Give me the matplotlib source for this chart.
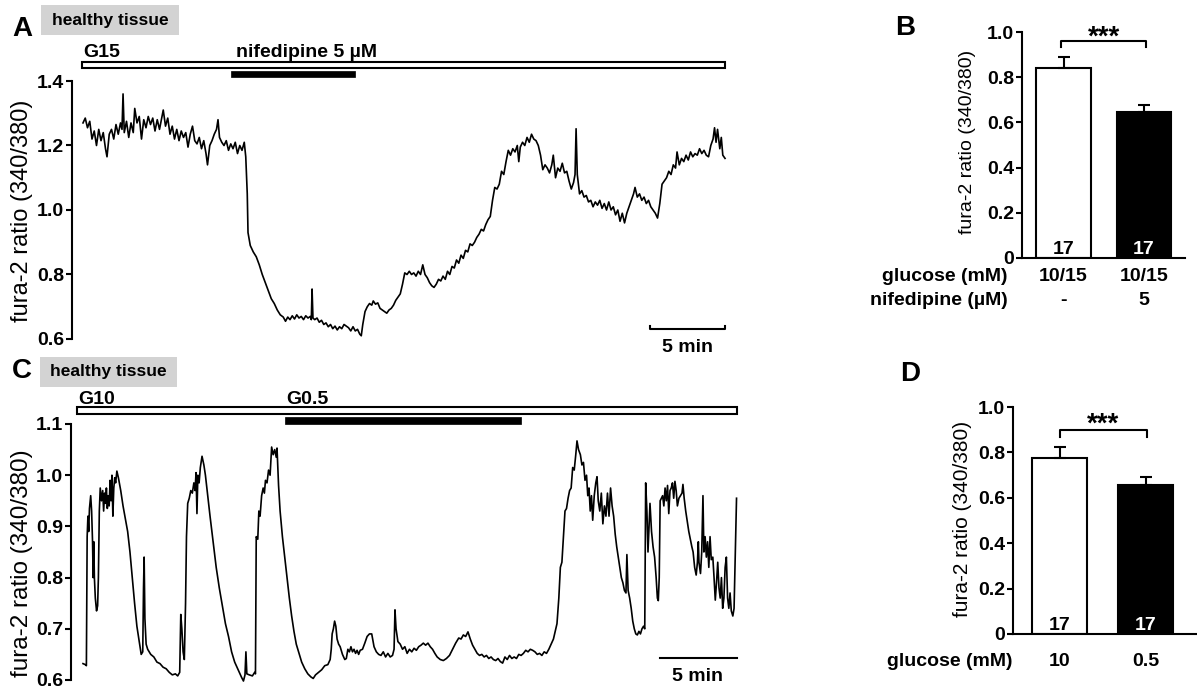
import numpy as np
import matplotlib
matplotlib.use("Agg")
import matplotlib.pyplot as plt
from matplotlib.patches import Rectangle
import matplotlib.transforms as mtransforms

plt.rcParams['font.family'] = ['Liberation Sans', 'DejaVu Sans']

# ---------------- data ----------------
# Panel A: fura-2 ratio trace (time in min, ratio)
trace_a = [
    (0.00, 1.27), (0.15, 1.285), (0.30, 1.255), (0.45, 1.275), (0.60, 1.22), (0.75, 1.245),
    (0.90, 1.20), (1.05, 1.25), (1.20, 1.215), (1.35, 1.24), (1.50, 1.19), (1.60, 1.165),
    (1.75, 1.235), (1.90, 1.25), (2.05, 1.22), (2.20, 1.265), (2.35, 1.235), (2.50, 1.27),
    (2.60, 1.25), (2.67, 1.36), (2.75, 1.24), (2.90, 1.275), (3.05, 1.225), (3.20, 1.27),
    (3.35, 1.24), (3.45, 1.315), (3.60, 1.27), (3.75, 1.29), (3.90, 1.22), (4.05, 1.28),
    (4.20, 1.255), (4.35, 1.29), (4.50, 1.265), (4.65, 1.285), (4.80, 1.245), (4.95, 1.28),
    (5.10, 1.25), (5.25, 1.285), (5.35, 1.31), (5.50, 1.26), (5.65, 1.285), (5.80, 1.235),
    (5.95, 1.26), (6.10, 1.22), (6.25, 1.25), (6.40, 1.215), (6.55, 1.245), (6.70, 1.225),
    (6.85, 1.24), (7.00, 1.195), (7.15, 1.235), (7.30, 1.26), (7.45, 1.215), (7.60, 1.205),
    (7.75, 1.225), (7.90, 1.19), (8.05, 1.215), (8.20, 1.175), (8.30, 1.14), (8.45, 1.20),
    (8.60, 1.215), (8.75, 1.235), (8.90, 1.25), (9.00, 1.28), (9.10, 1.225), (9.25, 1.21),
    (9.40, 1.20), (9.55, 1.215), (9.70, 1.185), (9.85, 1.205), (10.00, 1.19), (10.15, 1.21),
    (10.30, 1.175), (10.45, 1.20), (10.60, 1.185), (10.75, 1.21), (10.85, 1.165), (10.95, 1.05),
    (11.00, 0.93), (11.15, 0.89), (11.35, 0.87), (11.55, 0.855), (11.75, 0.83), (11.95, 0.80),
    (12.15, 0.775), (12.35, 0.75), (12.55, 0.725), (12.75, 0.71), (12.95, 0.69), (13.15, 0.675),
    (13.35, 0.668), (13.50, 0.655), (13.65, 0.668), (13.80, 0.66), (13.95, 0.672), (14.10, 0.662),
    (14.25, 0.675), (14.40, 0.665), (14.55, 0.67), (14.70, 0.66), (14.85, 0.672), (15.00, 0.665),
    (15.15, 0.67), (15.22, 0.66), (15.27, 0.755), (15.33, 0.665), (15.45, 0.66), (15.60, 0.665),
    (15.75, 0.652), (15.90, 0.658), (16.05, 0.645), (16.20, 0.65), (16.35, 0.638), (16.50, 0.645),
    (16.65, 0.632), (16.80, 0.64), (16.95, 0.628), (17.10, 0.638), (17.25, 0.632), (17.40, 0.645),
    (17.55, 0.64), (17.70, 0.635), (17.85, 0.625), (18.00, 0.638), (18.15, 0.625), (18.30, 0.63),
    (18.45, 0.615), (18.55, 0.61), (18.65, 0.645), (18.80, 0.685), (18.95, 0.70), (19.10, 0.71),
    (19.25, 0.705), (19.35, 0.718), (19.50, 0.708), (19.65, 0.712), (19.80, 0.695), (19.95, 0.69),
    (20.10, 0.685), (20.25, 0.68), (20.40, 0.69), (20.55, 0.695), (20.70, 0.705), (20.85, 0.72),
    (21.00, 0.73), (21.15, 0.74), (21.30, 0.77), (21.45, 0.805), (21.60, 0.80), (21.75, 0.81),
    (21.90, 0.80), (22.05, 0.805), (22.20, 0.795), (22.35, 0.81), (22.50, 0.80), (22.65, 0.83),
    (22.80, 0.80), (22.95, 0.79), (23.10, 0.775), (23.25, 0.765), (23.40, 0.76), (23.55, 0.77),
    (23.70, 0.785), (23.85, 0.78), (24.00, 0.795), (24.15, 0.785), (24.30, 0.81), (24.45, 0.80),
    (24.60, 0.825), (24.75, 0.82), (24.90, 0.845), (25.05, 0.835), (25.20, 0.86), (25.35, 0.85),
    (25.50, 0.875), (25.65, 0.87), (25.80, 0.895), (25.95, 0.89), (26.10, 0.90), (26.25, 0.915),
    (26.40, 0.925), (26.55, 0.94), (26.70, 0.935), (26.85, 0.955), (27.00, 0.97), (27.15, 0.98),
    (27.30, 1.03), (27.45, 1.07), (27.60, 1.065), (27.75, 1.08), (27.90, 1.12), (28.05, 1.11),
    (28.20, 1.15), (28.35, 1.185), (28.50, 1.17), (28.65, 1.19), (28.80, 1.18), (28.95, 1.20),
    (29.05, 1.15), (29.15, 1.195), (29.30, 1.21), (29.45, 1.20), (29.60, 1.225), (29.75, 1.21),
    (29.90, 1.235), (30.05, 1.22), (30.20, 1.215), (30.35, 1.20), (30.50, 1.17), (30.65, 1.125),
    (30.80, 1.14), (30.95, 1.13), (31.10, 1.115), (31.25, 1.14), (31.35, 1.17), (31.50, 1.10),
    (31.65, 1.13), (31.80, 1.12), (31.95, 1.145), (32.10, 1.115), (32.25, 1.12), (32.40, 1.09),
    (32.55, 1.065), (32.70, 1.085), (32.80, 1.11), (32.87, 1.252), (32.95, 1.11), (33.10, 1.05),
    (33.25, 1.06), (33.40, 1.04), (33.55, 1.045), (33.70, 1.025), (33.85, 1.03), (34.00, 1.01),
    (34.15, 1.025), (34.30, 1.015), (34.45, 1.03), (34.60, 1.005), (34.75, 1.02), (34.90, 1.00),
    (35.05, 1.025), (35.20, 1.00), (35.35, 1.01), (35.50, 0.985), (35.65, 1.00), (35.80, 0.965),
    (35.95, 0.99), (36.10, 0.96), (36.25, 0.99), (36.40, 1.01), (36.55, 1.03), (36.70, 1.05),
    (36.80, 1.07), (36.95, 1.04), (37.10, 1.05), (37.25, 1.03), (37.40, 1.04), (37.55, 1.02),
    (37.70, 1.03), (37.85, 1.01), (38.00, 1.00), (38.15, 0.99), (38.30, 0.975), (38.45, 1.02),
    (38.60, 1.08), (38.75, 1.09), (38.90, 1.10), (39.05, 1.12), (39.20, 1.11), (39.35, 1.14),
    (39.50, 1.13), (39.60, 1.18), (39.75, 1.14), (39.90, 1.16), (40.05, 1.15), (40.20, 1.17),
    (40.35, 1.155), (40.50, 1.18), (40.65, 1.165), (40.80, 1.175), (40.95, 1.17), (41.10, 1.19),
    (41.25, 1.175), (41.40, 1.185), (41.55, 1.17), (41.70, 1.165), (41.85, 1.20), (42.00, 1.22),
    (42.10, 1.255), (42.20, 1.21), (42.30, 1.25), (42.45, 1.19), (42.55, 1.225), (42.65, 1.17),
    (42.80, 1.16),
]

# Panel C: fura-2 ratio trace (time in min, ratio)
trace_c = [
    (0.00, 0.632), (0.15, 0.63), (0.22, 0.628), (0.27, 0.88), (0.32, 0.92), (0.37, 0.89),
    (0.42, 0.935), (0.50, 0.96), (0.56, 0.93), (0.62, 0.87), (0.66, 0.80), (0.70, 0.87),
    (0.74, 0.80), (0.80, 0.76), (0.88, 0.735), (0.95, 0.745), (1.00, 0.80), (1.06, 0.93),
    (1.12, 0.975), (1.20, 0.95), (1.28, 0.97), (1.34, 0.93), (1.40, 0.965), (1.46, 0.945),
    (1.52, 0.975), (1.58, 0.935), (1.64, 0.96), (1.70, 0.94), (1.76, 0.99), (1.82, 0.95),
    (1.88, 1.00), (1.94, 0.92), (2.00, 0.975), (2.06, 0.995), (2.12, 0.985), (2.20, 1.008),
    (2.30, 0.995), (2.45, 0.97), (2.60, 0.94), (2.75, 0.915), (2.90, 0.89), (3.05, 0.85),
    (3.20, 0.80), (3.35, 0.75), (3.50, 0.705), (3.65, 0.675), (3.78, 0.65), (3.88, 0.655),
    (3.93, 0.78), (3.97, 0.84), (4.02, 0.72), (4.10, 0.67), (4.20, 0.66), (4.40, 0.65),
    (4.60, 0.645), (4.80, 0.635), (5.00, 0.632), (5.20, 0.625), (5.40, 0.622), (5.60, 0.615),
    (5.80, 0.61), (6.00, 0.612), (6.15, 0.608), (6.28, 0.615), (6.35, 0.728), (6.42, 0.70),
    (6.50, 0.655), (6.58, 0.64), (6.66, 0.75), (6.72, 0.88), (6.80, 0.945), (6.90, 0.955),
    (7.00, 0.97), (7.10, 0.965), (7.20, 0.985), (7.28, 0.97), (7.34, 1.005), (7.40, 0.925),
    (7.46, 1.00), (7.54, 0.985), (7.62, 1.015), (7.73, 1.037), (7.85, 1.02), (7.95, 1.00),
    (8.10, 0.96), (8.25, 0.92), (8.45, 0.87), (8.65, 0.82), (8.85, 0.78), (9.05, 0.745),
    (9.25, 0.71), (9.45, 0.685), (9.65, 0.655), (9.85, 0.635), (10.00, 0.625), (10.15, 0.615),
    (10.30, 0.605), (10.42, 0.598), (10.52, 0.61), (10.58, 0.655), (10.64, 0.612), (10.80, 0.61),
    (11.00, 0.608), (11.15, 0.615), (11.20, 0.612), (11.25, 0.88), (11.35, 0.875), (11.42, 0.93),
    (11.50, 0.92), (11.60, 0.96), (11.70, 0.975), (11.78, 0.965), (11.85, 0.99), (11.95, 0.985),
    (12.05, 1.01), (12.15, 1.00), (12.25, 1.055), (12.35, 1.04), (12.45, 1.05), (12.55, 1.035),
    (12.60, 1.053), (12.70, 0.98), (12.80, 0.93), (12.95, 0.88), (13.10, 0.84), (13.25, 0.80),
    (13.40, 0.76), (13.55, 0.725), (13.70, 0.695), (13.85, 0.67), (14.00, 0.655), (14.20, 0.635),
    (14.40, 0.622), (14.60, 0.612), (14.80, 0.606), (14.95, 0.603), (15.10, 0.61), (15.30, 0.615),
    (15.50, 0.62), (15.70, 0.628), (15.90, 0.63), (16.05, 0.64), (16.12, 0.66), (16.18, 0.69),
    (16.26, 0.70), (16.34, 0.715), (16.42, 0.705), (16.50, 0.68), (16.60, 0.67), (16.70, 0.665),
    (16.85, 0.65), (17.00, 0.64), (17.10, 0.642), (17.20, 0.66), (17.30, 0.655), (17.40, 0.665),
    (17.50, 0.655), (17.60, 0.66), (17.70, 0.652), (17.80, 0.658), (17.90, 0.65), (18.00, 0.658),
    (18.15, 0.66), (18.30, 0.672), (18.45, 0.685), (18.60, 0.69), (18.75, 0.69), (18.90, 0.665),
    (19.05, 0.655), (19.20, 0.65), (19.35, 0.648), (19.50, 0.655), (19.65, 0.645), (19.80, 0.652),
    (19.95, 0.645), (20.10, 0.648), (20.20, 0.66), (20.26, 0.737), (20.33, 0.70), (20.45, 0.675),
    (20.60, 0.67), (20.75, 0.66), (20.90, 0.665), (21.05, 0.652), (21.20, 0.66), (21.35, 0.655),
    (21.50, 0.662), (21.65, 0.658), (21.80, 0.665), (21.95, 0.668), (22.10, 0.672), (22.25, 0.668),
    (22.40, 0.672), (22.55, 0.665), (22.70, 0.66), (22.85, 0.652), (23.00, 0.645), (23.20, 0.64),
    (23.40, 0.638), (23.60, 0.642), (23.80, 0.648), (24.00, 0.66), (24.20, 0.672), (24.40, 0.682),
    (24.55, 0.68), (24.70, 0.688), (24.85, 0.685), (25.00, 0.694), (25.15, 0.68), (25.30, 0.668),
    (25.45, 0.66), (25.60, 0.652), (25.75, 0.648), (25.90, 0.65), (26.05, 0.645), (26.20, 0.648),
    (26.35, 0.642), (26.50, 0.645), (26.65, 0.64), (26.80, 0.638), (26.95, 0.642), (27.10, 0.636),
    (27.25, 0.633), (27.40, 0.645), (27.55, 0.64), (27.70, 0.648), (27.85, 0.642), (28.00, 0.645),
    (28.15, 0.642), (28.30, 0.65), (28.45, 0.648), (28.60, 0.652), (28.75, 0.658), (28.90, 0.655),
    (29.05, 0.66), (29.20, 0.658), (29.35, 0.655), (29.50, 0.65), (29.65, 0.652), (29.80, 0.648),
    (29.95, 0.655), (30.10, 0.652), (30.25, 0.66), (30.40, 0.67), (30.55, 0.68), (30.70, 0.70),
    (30.78, 0.71), (30.90, 0.76), (31.00, 0.82), (31.10, 0.83), (31.20, 0.88), (31.30, 0.93),
    (31.40, 0.935), (31.50, 0.955), (31.60, 0.97), (31.70, 0.975), (31.80, 1.015), (31.90, 1.01),
    (32.00, 1.04), (32.08, 1.067), (32.18, 1.05), (32.30, 1.04), (32.40, 1.02), (32.50, 1.025),
    (32.60, 0.99), (32.70, 1.00), (32.78, 0.96), (32.86, 0.975), (32.94, 0.93), (33.02, 0.96),
    (33.10, 0.912), (33.20, 0.96), (33.30, 0.985), (33.38, 0.997), (33.46, 0.95), (33.56, 0.93),
    (33.66, 0.965), (33.76, 0.905), (33.86, 0.94), (33.96, 0.92), (34.06, 0.965), (34.16, 0.92),
    (34.26, 0.975), (34.36, 0.94), (34.46, 0.92), (34.56, 0.885), (34.66, 0.86), (34.76, 0.84),
    (34.86, 0.82), (34.96, 0.80), (35.06, 0.79), (35.16, 0.775), (35.26, 0.77), (35.32, 0.845),
    (35.40, 0.775), (35.50, 0.76), (35.60, 0.74), (35.70, 0.715), (35.80, 0.70), (35.90, 0.69),
    (36.00, 0.688), (36.10, 0.695), (36.20, 0.69), (36.30, 0.70), (36.40, 0.705), (36.48, 0.70),
    (36.54, 0.985), (36.62, 0.93), (36.69, 0.85), (36.76, 0.90), (36.82, 0.945), (36.92, 0.89),
    (37.02, 0.86), (37.12, 0.84), (37.22, 0.80), (37.30, 0.76), (37.36, 0.755), (37.42, 0.80),
    (37.48, 0.95), (37.56, 0.955), (37.64, 0.96), (37.72, 0.94), (37.80, 0.975), (37.88, 0.95),
    (37.96, 0.98), (38.04, 0.925), (38.12, 0.97), (38.20, 0.975), (38.28, 0.985), (38.36, 0.955),
    (38.44, 0.988), (38.52, 0.97), (38.60, 0.94), (38.70, 0.955), (38.80, 0.96), (38.90, 0.965),
    (38.96, 0.982), (39.04, 0.955), (39.14, 0.93), (39.24, 0.91), (39.34, 0.89), (39.44, 0.875),
    (39.54, 0.86), (39.62, 0.85), (39.72, 0.82), (39.82, 0.805), (39.90, 0.83), (39.96, 0.87),
    (40.00, 0.83), (40.10, 0.808), (40.18, 0.85), (40.26, 0.96), (40.32, 0.85), (40.40, 0.88),
    (40.48, 0.84), (40.56, 0.87), (40.64, 0.82), (40.72, 0.88), (40.80, 0.835), (40.90, 0.84),
    (40.98, 0.80), (41.06, 0.756), (41.14, 0.79), (41.22, 0.83), (41.30, 0.78), (41.38, 0.76),
    (41.46, 0.80), (41.54, 0.74), (41.62, 0.76), (41.70, 0.82), (41.78, 0.84), (41.86, 0.76),
    (41.94, 0.74), (42.02, 0.77), (42.10, 0.735), (42.20, 0.725), (42.28, 0.74), (42.36, 0.85),
    (42.44, 0.955),
]

# Panel B bars
b_glucose = ["10/15", "10/15"]
b_nifedipine = ["-", "5"]
b_mean = [0.84, 0.645]
b_sem = [0.05, 0.033]
b_n = [17, 17]

# Panel D bars
d_glucose = ["10", "0.5"]
d_mean = [0.775, 0.655]
d_sem = [0.05, 0.035]
d_n = [17, 17]

ylabel_text = "fura-2 ratio (340/380)"

# ---------------- layout helpers ----------------
W, H = 1197, 691
fig = plt.figure(figsize=(W / 100, H / 100), dpi=100)


def rect(l, t, r, b):
    return [l / W, 1 - b / H, (r - l) / W, (b - t) / H]


def fx(px):
    return px / W


def fy(py):
    return 1 - py / H


BOLD = dict(fontweight='bold')
LW = 1.5


def style_axis(ax, ticks, labels, size):
    for s in ['top', 'right', 'bottom']:
        ax.spines[s].set_visible(False)
    ax.spines['left'].set_linewidth(LW)
    ax.set_xticks([])
    ax.set_yticks(ticks)
    ax.set_yticklabels(labels, fontsize=size, fontweight='bold')
    ax.tick_params(axis='y', direction='out', length=4, width=LW, pad=1.5)
    ax.patch.set_alpha(0)


def tissue_box(l, t, r, b):
    fig.add_artist(Rectangle((fx(l), fy(b)), fx(r - l), (b - t) / H,
                             transform=fig.transFigure, fc='#d3d3d3', ec='none'))
    fig.text(fx((l + r) / 2), fy((t + b) / 2), "healthy tissue", ha='center', va='center',
             fontsize=12.5, **BOLD)


# ---------------- Panel A ----------------
axA = fig.add_axes(rect(72, 81, 745, 339))
ta, va = zip(*trace_a)
axA.plot(ta, va, color='black', lw=1.2, clip_on=False)
axA.set_xlim(-0.733, 44.13)
axA.set_ylim(0.6, 1.4)
style_axis(axA, [0.6, 0.8, 1.0, 1.2, 1.4], ["0.6", "0.8", "1.0", "1.2", "1.4"], 14)
axA.add_patch(Rectangle((-0.07, 1.439), 42.87, 0.021, fc='white', ec='black', lw=LW, clip_on=False))
axA.add_patch(Rectangle((9.87, 1.412), 8.26, 0.019, fc='black', ec='black', lw=0.5, clip_on=False))
axA.text(0.0, 1.474, "G15", fontsize=14, ha='left', va='baseline', **BOLD)
axA.text(10.2, 1.474, "nifedipine 5 µM", fontsize=14, ha='left', va='baseline', **BOLD)
axA.plot([37.8, 37.8, 42.8, 42.8], [0.641, 0.631, 0.631, 0.641], color='black', lw=LW, clip_on=False)
axA.text(40.3, 0.574, "5 min", fontsize=14, ha='center', va='center', **BOLD)
fig.text(fx(22), fy(211), ylabel_text, rotation=90, ha='center', va='center', fontsize=17)
fig.text(fx(22), fy(29), "A", ha='center', va='center', fontsize=20, **BOLD)
tissue_box(41, 5, 179, 35)

# ---------------- Panel C ----------------
axC = fig.add_axes(rect(71, 424, 745, 680))
tc, vc = zip(*trace_c)
axC.plot(tc, vc, color='black', lw=1.2, clip_on=False)
axC.set_xlim(-0.779, 42.99)
axC.set_ylim(0.6, 1.1)
style_axis(axC, [0.6, 0.7, 0.8, 0.9, 1.0, 1.1], ["0.6", "0.7", "0.8", "0.9", "1.0", "1.1"], 14)
axC.add_patch(Rectangle((-0.39, 1.119), 42.86, 0.0137, fc='white', ec='black', lw=LW, clip_on=False))
axC.add_patch(Rectangle((13.12, 1.1005), 15.32, 0.0125, fc='black', ec='black', lw=0.5, clip_on=False))
axC.text(-0.3, 1.139, "G10", fontsize=14, ha='left', va='baseline', **BOLD)
axC.text(13.2, 1.139, "G0.5", fontsize=14, ha='left', va='baseline', **BOLD)
axC.plot([37.47, 42.47], [0.643, 0.643], color='black', lw=LW, clip_on=False)
axC.text(39.9, 0.606, "5 min", fontsize=14, ha='center', va='center', **BOLD)
fig.text(fx(22), fy(563), ylabel_text, rotation=90, ha='center', va='center', fontsize=17.5)
fig.text(fx(22), fy(371), "C", ha='center', va='center', fontsize=20, **BOLD)
tissue_box(40, 357, 177, 387)


# ---------------- bar panels ----------------
def bar_panel(ax, means, sems, ns, width, bracket_x, bracket_y, tick_drop, star_y):
    xs = np.arange(len(means))
    ax.bar(xs, means, width=width, color=['white', 'black'], edgecolor='black', linewidth=LW, zorder=2)
    ax.errorbar(xs, means, yerr=[np.zeros(len(sems)), sems], fmt='none', ecolor='black',
                elinewidth=LW, capsize=4, capthick=LW, zorder=3)
    ax.set_ylim(0, 1.0)
    style_axis(ax, [0, 0.2, 0.4, 0.6, 0.8, 1.0], ["0", "0.2", "0.4", "0.6", "0.8", "1.0"], 14)
    ax.spines['bottom'].set_visible(True)
    ax.spines['bottom'].set_linewidth(LW)
    ax.plot([bracket_x[0], bracket_x[0], bracket_x[1], bracket_x[1]],
            [bracket_y - tick_drop, bracket_y, bracket_y, bracket_y - tick_drop],
            color='black', lw=LW, clip_on=False)
    ax.text(np.mean(bracket_x), star_y, "***", ha='center', va='baseline', fontsize=20,
            clip_on=False, **BOLD)
    for x, n, c in zip(xs, ns, ['black', 'white']):
        ax.text(x, 0.016, str(n), ha='center', va='baseline', fontsize=14, color=c, zorder=4, **BOLD)


# Panel B
axB = fig.add_axes(rect(1022, 32, 1185, 258))
axB.set_xlim(-0.516, 1.509)
bar_panel(axB, b_mean, b_sem, b_n, 0.68, (-0.03, 1.025), 0.96, 0.025, 0.945)
trB = mtransforms.blended_transform_factory(axB.transData, axB.transAxes)
for i, (g, nf) in enumerate(zip(b_glucose, b_nifedipine)):
    axB.text(i, -0.084, g, transform=trB, ha='center', va='center', fontsize=14, **BOLD)
    axB.text(i, -0.186, nf, transform=trB, ha='center', va='center', fontsize=14, **BOLD)
axB.text(-0.086, -0.084, "glucose (mM)", transform=axB.transAxes, ha='right', va='center', fontsize=14, **BOLD)
axB.text(-0.086, -0.186, "nifedipine (µM)", transform=axB.transAxes, ha='right', va='center', fontsize=14, **BOLD)
fig.text(fx(967), fy(142), ylabel_text, rotation=90, ha='center', va='center', fontsize=14)
fig.text(fx(905), fy(28), "B", ha='center', va='center', fontsize=20, **BOLD)

# Panel D
axD = fig.add_axes(rect(1013, 407, 1197, 634))
axD.set_xlim(-0.538, 1.59)
bar_panel(axD, d_mean, d_sem, d_n, 0.636, (0.0, 1.01), 0.90, 0.03, 0.892)
trD = mtransforms.blended_transform_factory(axD.transData, axD.transAxes)
for i, g in enumerate(d_glucose):
    axD.text(i, -0.123, g, transform=trD, ha='center', va='center', fontsize=14, **BOLD)
axD.text(-0.005, -0.123, "glucose (mM)", transform=axD.transAxes, ha='right', va='center', fontsize=14, **BOLD)
fig.text(fx(963), fy(519), ylabel_text, rotation=90, ha='center', va='center', fontsize=15)
fig.text(fx(910), fy(374), "D", ha='center', va='center', fontsize=20, **BOLD)

fig.savefig("out.png", dpi=100)
